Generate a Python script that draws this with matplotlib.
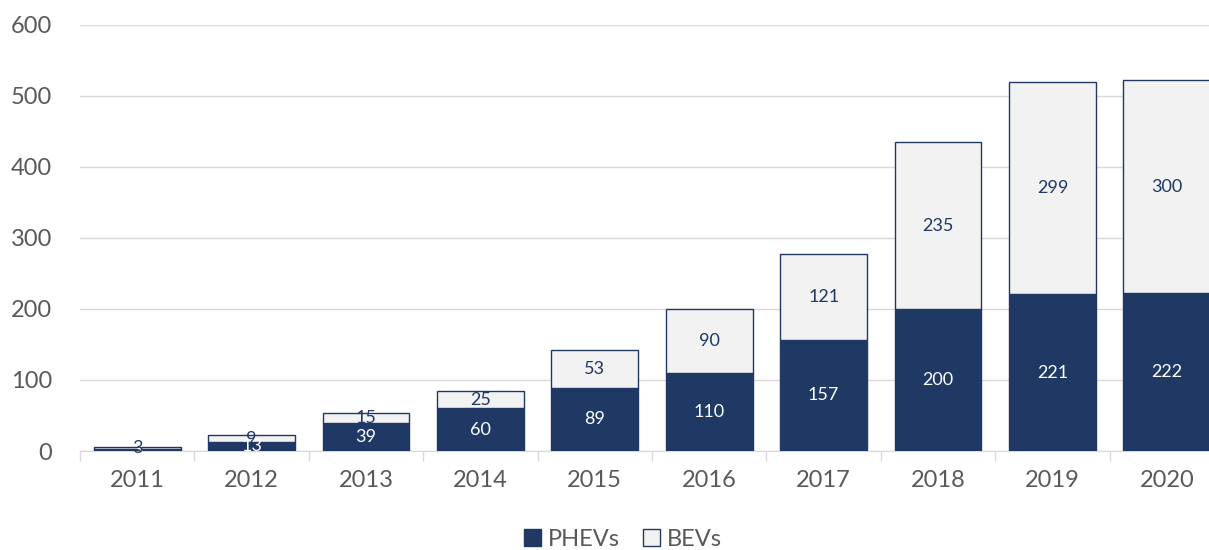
import numpy as np
import matplotlib.pyplot as plt
from matplotlib.patches import Patch

years = ['2011', '2012', '2013', '2014', '2015', '2016', '2017', '2018', '2019', '2020']
phevs = [3, 13, 39, 60, 89, 110, 157, 200, 221, 222]
bevs = [3, 9, 15, 25, 53, 90, 121, 235, 299, 300]

navy = '#1F3864'
light = '#F2F2F2'
grey = '#595959'

plt.rcParams['font.family'] = ['Lato', 'DejaVu Sans']

fig = plt.figure(figsize=(12.09, 5.5), dpi=100)
# right edge of the axes runs past the figure, like the reference
ax = fig.add_axes([80 / 1209, 1 - 451 / 550, 1144 / 1209, 426 / 550])

x = np.arange(len(years))
w = 0.76
ax.bar(x, phevs, w, color=navy, edgecolor=navy, linewidth=1, zorder=3)
ax.bar(x, bevs, w, bottom=phevs, color=light, edgecolor=navy, linewidth=1, zorder=3)

for i in range(len(years)):
    ax.text(x[i], phevs[i] / 2, str(phevs[i]), ha='center', va='center',
            color='white', fontsize=13, zorder=4)
    ax.text(x[i], phevs[i] + bevs[i] / 2, str(bevs[i]), ha='center', va='center',
            color=navy, fontsize=13, zorder=4)

ax.set_xlim(-0.5, len(years) - 0.5)
ax.set_ylim(0, 600)
ax.set_yticks(range(0, 601, 100))
ax.set_xticks(x)
ax.set_xticklabels(years)
ax.set_xticks(np.arange(-0.5, len(years), 1), minor=True)
ax.tick_params(axis='x', which='major', length=0, pad=14, labelsize=17, labelcolor=grey)
ax.tick_params(axis='x', which='minor', length=7, color='#D9D9D9', width=1)
ax.tick_params(axis='y', length=0, pad=20, labelsize=17, labelcolor=grey)
ax.grid(axis='y', color='#D9D9D9', linewidth=1, zorder=0)

for s in ['top', 'right', 'left']:
    ax.spines[s].set_visible(False)
ax.spines['bottom'].set_color('#D9D9D9')

handles = [Patch(facecolor=navy, edgecolor=navy, label='PHEVs'),
           Patch(facecolor=light, edgecolor=navy, label='BEVs')]
fig.legend(handles=handles, loc='center', bbox_to_anchor=(623 / 1209, 1 - 539 / 550),
           ncol=2, frameon=False, fontsize=17, labelcolor=grey,
           handlelength=0.7, handleheight=0.7, handletextpad=0.3, columnspacing=1.0)

fig.savefig('out.png', dpi=100)
